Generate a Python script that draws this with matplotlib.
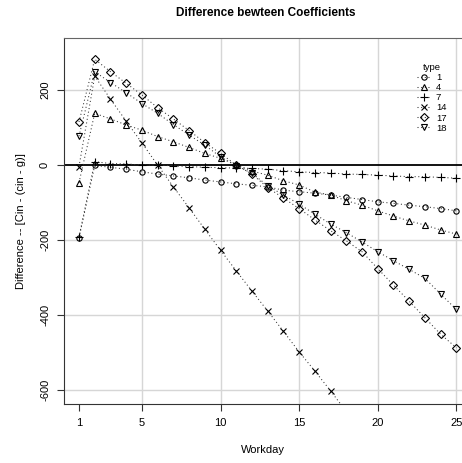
import numpy as np
import matplotlib.pyplot as plt

plt.rcParams['font.family'] = ['Liberation Sans', 'DejaVu Sans']
plt.rcParams['axes.unicode_minus'] = False

# workday 1..25, one series per type
days = np.arange(1, 26)
types = ['1', '4', '7', '14', '17', '18']

t1 = [-194, -1, -6, -11, -18, -24, -29, -34, -40, -45, -50, -54, -58, -67, -71,
      -75, -80, -86, -92, -98, -102, -107, -111, -116, -122]
t4 = [-47, 138, 123, 107, 93, 76, 62, 47, 31, 18, 1, -16, -27, -42, -53,
      -72, -80, -95, -107, -122, -136, -149, -160, -173, -184]
t7 = [-192, 9, 4, 3, 0, 0, -2, -4, -6, -7, -8, -9, -11, -15, -18,
      -20, -21, -24, -25, -27, -29, -31, -31, -33, -35]
# type 14 runs off the bottom after day 17
t14 = [-4, 237, 176, 117, 59, 0, -58, -114, -171, -227, -282, -336, -389, -443, -498,
       -549, -602, -657]
t17 = [115, 282, 249, 218, 187, 153, 123, 92, 60, 31, 0, -24, -60, -88, -116,
       -146, -175, -202, -231, -276, -320, -363, -407, -451, -487]
t18 = [77, 249, 220, 193, 164, 138, 108, 80, 53, 22, -2, -22, -55, -80, -104,
       -131, -157, -180, -205, -231, -255, -278, -302, -344, -385]

series = [t1, t4, t7, t14, t17, t18]
markers = ['o', '^', '+', 'x', 'D', 'v']
msizes = [3.8, 4.8, 5.5, 4.3, 4.0, 4.8]

fig = plt.figure(figsize=(4.62, 4.63), dpi=100)
ax = fig.add_axes([64/462, 59/463, 1 - 64/462, 366/463])

for v, m, s, lab in zip(series, markers, msizes, types):
    ax.plot(days[:len(v)], v, linestyle=(0, (1, 2.5)), color='#333333', lw=0.75,
            marker=m, markersize=s, markerfacecolor='none', markeredgecolor='black',
            markeredgewidth=0.8, label=lab)

ax.axhline(0, color='black', lw=1.3, zorder=1)

ax.set_xlim(0.046, 25.36)
ax.set_ylim(-637, 338.7)
ax.set_xticks([1, 5, 10, 15, 20, 25])
ax.set_yticks([200, 0, -200, -400, -600])
for gx in [5, 10, 15, 20, 25]:
    ax.axvline(gx, color='#d6d6d6', lw=1, zorder=0)
for gy in [200, -200, -400, -600]:
    ax.axhline(gy, color='#d6d6d6', lw=1, zorder=0)

ax.tick_params(axis='both', length=5, width=0.8, color='#333333', labelsize=8, pad=5)
for t in ax.get_yticklabels():
    t.set_rotation(90)
    t.set_va('center')

ax.spines['right'].set_visible(False)
ax.spines['top'].set_color('#666666')
ax.spines['left'].set_color('#333333')
ax.spines['bottom'].set_color('#333333')

ax.set_xlabel('Workday', fontsize=8, labelpad=12)
ax.set_ylabel('Difference -- [Cin - (cin - g)]', fontsize=8, labelpad=10)
fig.text(0.575, 0.972, 'Difference bewteen Coefficients', ha='center', va='center',
         fontsize=8.5, fontweight='bold')

leg = ax.legend(title='type', loc='upper left', bbox_to_anchor=(0.875, 0.945),
                frameon=False, fontsize=6.8, title_fontsize=6.8, handlelength=1.5,
                handletextpad=0.5, labelspacing=0.12, borderpad=0)
leg._legend_box.align = 'center'

fig.savefig('out.png', dpi=100)
